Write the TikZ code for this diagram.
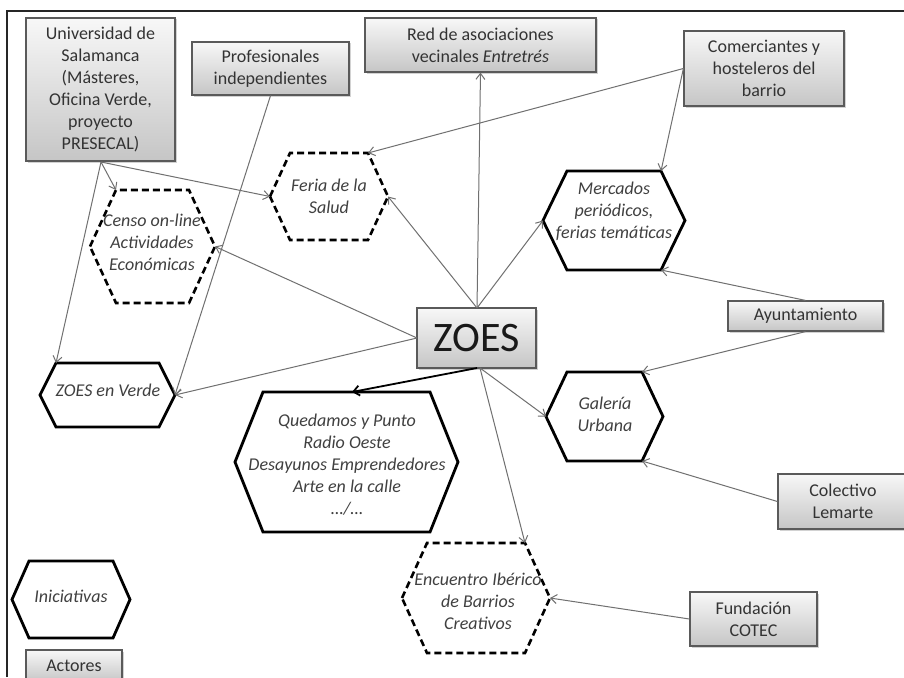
\documentclass[tikz,border=0pt]{standalone}
\usepackage{fontspec}
\setmainfont{Carlito}
\usetikzlibrary{arrows.meta,shadows}
\definecolor{actortext}{HTML}{333333}
\definecolor{hextext}{HTML}{404040}
\definecolor{linegray}{HTML}{707070}
\definecolor{boxborder}{HTML}{5a5a5a}
\newcommand{\hexshape}[7]{%
  \coordinate (#1-l) at ({#2-#4},#3);
  \coordinate (#1-r) at ({#2+#4},#3);
  \coordinate (#1-tl) at ({#2-#4+#6},{#3-#5});
  \coordinate (#1-tr) at ({#2+#4-#6},{#3-#5});
  \coordinate (#1-bl) at ({#2-#4+#6},{#3+#5});
  \coordinate (#1-br) at ({#2+#4-#6},{#3+#5});
  \coordinate (#1-t) at (#2,{#3-#5});
  \draw[#7] (#1-l) -- (#1-tl) -- (#1-tr) -- (#1-r) -- (#1-br) -- (#1-bl) -- cycle;
}
\begin{document}
\begin{tikzpicture}[x=1pt,y=-1pt,
  actor/.style={draw=boxborder, line width=1.2pt, top color=gray!6, bottom color=gray!45,
    drop shadow={shadow xshift=1.5pt,shadow yshift=-1.5pt,opacity=0.35},
    inner sep=0pt, align=center, text=actortext,
    font=\fontsize{18}{22}\selectfont},
  hexsolid/.style={line width=2.8pt, line join=miter},
  hexdashed/.style={line width=2.6pt, dash pattern=on 7pt off 4pt},
  hexlabel/.style={inner sep=0pt, align=center, text=hextext,
    font=\fontsize{18}{22}\selectfont\itshape},
  conn/.style={draw=linegray, line width=1pt, -{Straight Barb[length=6pt,width=9pt]}},
  connbold/.style={draw=black, line width=1.8pt, -{Straight Barb[length=6pt,width=10pt]}},
]
\useasboundingbox (0,0) rectangle (904,677);
\fill[white] (0,0) rectangle (904,677);
% frame
\draw[line width=1.3pt, draw=black!85] (7,677) -- (7,11) -- (904,11);

% hexagons (iniciativas)
\hexshape{feria}{329}{196.5}{59}{43.5}{20}{hexdashed}
\hexshape{censo}{152.5}{246.5}{62.5}{56.5}{26}{hexdashed}
\hexshape{merc}{614}{220.5}{71}{49.5}{24}{hexsolid}
\hexshape{zverde}{107.5}{395}{67.5}{32}{16}{hexsolid}
\hexshape{qued}{346.5}{462}{111.5}{70}{28}{hexsolid}
\hexshape{gal}{604.5}{416.5}{58.5}{44.5}{21}{hexsolid}
\hexshape{enc}{476}{598}{74}{55}{25}{hexdashed}
\hexshape{inic}{71}{599.5}{59}{38.5}{17}{hexsolid}

\node[hexlabel] (feriaT) at (329,196) {Feria de la\\Salud};
\node[hexlabel] (censoT) at (152,242) {Censo on-line\\Actividades\\Económicas};
\node[hexlabel] (mercT) at (614,211) {Mercados\\periódicos,\\ferias temáticas};
\node[hexlabel] (zverdeT) at (108,390) {ZOES en Verde};
\node[hexlabel] (quedT) at (347,465) {Quedamos y Punto\\Radio Oeste\\Desayunos Emprendedores\\Arte en la calle\\…/…};
\node[hexlabel] (galT) at (605,414) {Galería\\Urbana};
\node[hexlabel] (encT) at (478,601) {Encuentro Ibérico\\de Barrios\\Creativos};
\node[hexlabel] (inicT) at (71,596) {Iniciativas};

% actors
\node[actor, minimum width=149pt, minimum height=143pt] (univ) at (100.5,89.5)
  {Universidad de\\Salamanca\\(Másteres,\\Oficina Verde,\\proyecto\\PRESECAL)};
\node[actor, minimum width=157pt, minimum height=53pt] (prof) at (270.5,68.5)
  {Profesionales\\independientes};
\node[actor, minimum width=231pt, minimum height=54pt] (red) at (480.5,45)
  {Red de asociaciones\\vecinales \textit{Entretrés}};
\node[actor, minimum width=160pt, minimum height=75pt] (com) at (764,68.5)
  {Comerciantes y\\hosteleros del\\barrio};
\node[actor, minimum width=155pt, minimum height=30pt] (ayu) at (805.5,316)
  {Ayuntamiento};
\node[actor, minimum width=130pt, minimum height=55pt] (col) at (843,501.5)
  {Colectivo\\Lemarte};
\node[actor, minimum width=127pt, minimum height=54pt] (fun) at (753.5,619)
  {Fundación\\COTEC};
\node[actor, minimum width=96pt, minimum height=32pt] (act) at (74,666)
  {Actores};
\node[actor, minimum width=119pt, minimum height=60pt,
  font=\fontsize{42}{46}\selectfont, text=black!90] (zoes) at (476.5,338) {ZOES};

% connectors
\coordinate (univB) at (101,162);
\coordinate (zoesN) at (477,308);
\coordinate (zoesW) at (417,338);
\coordinate (zoesS1) at (477,368);
\coordinate (zoesS2) at (480,368);
\coordinate (quedTip) at (352,392);
\draw[conn] (univB) -- (censo-tl);
\draw[conn] (univB) -- (feria-l);
\draw[conn] (univB) -- (zverde-tl);
\draw[conn] (prof.south) -- (zverde-r);
\draw[conn] (com.west) -- (feria-tr);
\draw[conn] (com.west) -- (merc-tr);
\draw[conn] (zoesN) -- (red.south);
\draw[conn] (zoesN) -- (feria-r);
\draw[conn] (zoesN) -- (merc-l);
\draw[conn] (zoesW) -- (censo-r);
\draw[conn] (zoesW) -- (zverde-r);
\draw[connbold] (zoesS1) -- (quedTip);
\draw[conn] (zoesS2) -- (gal-l);
\draw[conn] (zoesS2) -- (enc-tr);
\draw[conn] (ayu.north) -- (merc-br);
\draw[conn] (ayu.south) -- (gal-tr);
\draw[conn] (col.west) -- (gal-br);
\draw[conn] (fun.west) -- (enc-r);
\end{tikzpicture}
\end{document}
